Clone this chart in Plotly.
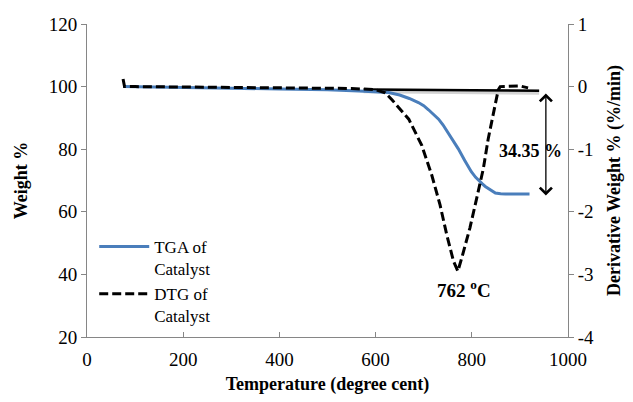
import plotly.graph_objects as go

# TGA (weight %) vs temperature
tga_temp = [75, 200, 300, 400, 500, 565, 600, 627, 650, 670, 689, 700, 710, 720, 731, 740, 750, 760, 772, 785, 799, 808, 815, 822, 828, 835, 840, 845, 849, 860, 870, 900, 920]
tga_weight = [100, 99.8, 99.5, 99.2, 99.0, 98.6, 98.4, 98.1, 97.3, 96.2, 94.9, 93.9, 92.6, 91.2, 89.6, 87.8, 85.5, 83.0, 80.1, 76.5, 72.8, 71.0, 69.8, 68.9, 68.1, 67.3, 66.8, 66.3, 66.0, 65.8, 65.7, 65.65, 65.65]

# DTG (derivative weight %/min) vs temperature
dtg_temp = [75, 78, 100, 300, 400, 550, 600, 620, 634, 669, 696, 717, 734, 748, 762, 771, 779, 796, 810, 824, 834, 845, 855, 859, 880, 900, 917]
dtg_value = [0.12, 0.0, 0.0, -0.01, -0.02, -0.03, -0.05, -0.1, -0.21, -0.52, -0.94, -1.42, -1.89, -2.37, -2.79, -2.95, -2.74, -2.26, -1.79, -1.31, -0.84, -0.42, -0.05, 0.0, 0.0, 0.01, -0.02]

# Baseline (solid black)
base_temp = [575, 940]
base_weight = [99.1, 98.7]
shadow_weight = [98.7, 98.2]

x_ticks = [0, 200, 400, 600, 800, 1000]
y_ticks = [20, 40, 60, 80, 100, 120]
y2_ticks = [-4, -3, -2, -1, 0, 1]
y2_labels = ["-4", "-3", "-2", "-1", "0", "1"]

loss_label = "34.35 %"
loss_top, loss_bottom, loss_x = 98.3, 65.2, 954
peak_label = "762 <sup>o</sup>C"

FONT = "Liberation Serif"
GRAY = "#868686"

fig = go.Figure()
fig.add_trace(go.Scatter(x=base_temp, y=shadow_weight, mode="lines",
                         line=dict(color="#d4d4d4", width=5), showlegend=False, hoverinfo="skip"))
fig.add_trace(go.Scatter(x=base_temp, y=base_weight, mode="lines",
                         line=dict(color="black", width=2.5), showlegend=False))
fig.add_trace(go.Scatter(x=tga_temp, y=tga_weight, mode="lines", name="TGA of<br>Catalyst",
                         line=dict(color="#4a7ebb", width=3)))
fig.add_trace(go.Scatter(x=dtg_temp, y=dtg_value, mode="lines", name="DTG of<br>Catalyst", yaxis="y2",
                         line=dict(color="black", width=3, dash="9px,4px")))

fig.add_annotation(x=loss_x, y=loss_bottom, ax=loss_x, ay=loss_top, axref="x", ayref="y",
                   xref="x", yref="y", text="", showarrow=True, arrowside="end+start",
                   arrowhead=4, arrowsize=1.8, arrowwidth=1.3, arrowcolor="black")
fig.add_annotation(x=921, y=79.5, xref="x", yref="y", text="<b>" + loss_label + "</b>", showarrow=False,
                   font=dict(family=FONT, size=18, color="black"))
fig.add_annotation(x=783, y=35.2, xref="x", yref="y", text="<b>" + peak_label + "</b>", showarrow=False,
                   font=dict(family=FONT, size=19, color="black"))

axis_common = dict(showgrid=False, zeroline=False, showline=True, linecolor=GRAY, linewidth=1,
                   tickcolor=GRAY, ticklen=5, tickfont=dict(family=FONT, size=19, color="black"))

fig.update_layout(
    width=633, height=402,
    margin=dict(l=87, r=63, t=24, b=62),
    paper_bgcolor="white", plot_bgcolor="white",
    font=dict(family=FONT, color="black"),
    xaxis=dict(range=[0, 1000], tickvals=x_ticks, ticks="inside", ticklabelstandoff=5,
               title=dict(text="<b>Temperature (degree cent)</b>", font=dict(family=FONT, size=18), standoff=8),
               **axis_common),
    yaxis=dict(range=[20, 120], tickvals=y_ticks, ticks="outside",
               title=dict(text="<b>Weight %</b>", font=dict(family=FONT, size=18), standoff=16),
               **axis_common),
    yaxis2=dict(range=[-4, 1], tickvals=y2_ticks, ticktext=y2_labels, ticks="outside",
                overlaying="y", side="right",
                title=dict(text="<b>Derivative Weight % (%/min)</b>", font=dict(family=FONT, size=18), standoff=14),
                **axis_common),
    legend=dict(x=0.015, y=0.345, xanchor="left", yanchor="top", bgcolor="rgba(0,0,0,0)",
                font=dict(family=FONT, size=17, color="black"), valign="top", tracegroupgap=4,
                itemwidth=50),
    showlegend=True,
)

fig.write_html("out.html")
